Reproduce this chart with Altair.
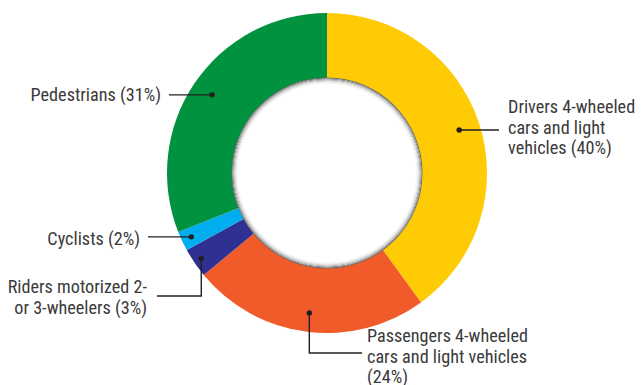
import math
import altair as alt
import pandas as pd

# ---- data ----
categories = [
    "Drivers 4-wheeled cars and light vehicles",
    "Passengers 4-wheeled cars and light vehicles",
    "Riders motorized 2- or 3-wheelers",
    "Cyclists",
    "Pedestrians",
]
values = [40, 24, 3, 2, 31]
colors = ["#FFCB05", "#F15A29", "#2E3192", "#00AEEF", "#00923F"]
label_lines = [
    ["Drivers 4-wheeled", "cars and light", "vehicles (40%)"],
    ["Passengers 4-wheeled", "cars and light vehicles", "(24%)"],
    ["Riders motorized 2-", "or 3-wheelers (3%)"],
    ["Cyclists (2%)"],
    ["Pedestrians (31%)"],
]

# ---- layout (pixels, chart coordinates) ----
W, H = 627, 377
CX, CY = 319, 165
R_OUT, R_IN = 160, 95
dot_radius = [139, 141, 152, 150, 139]
text_anchor = [(500, 100, "left"), (359, 329, "left"), (139, 280, "right"),
               (132, 232, "right"), (153, 88, "right")]
elbow_y = [None, 345, 288, None, None]
leader_end_x = [491, 354, 149, 140, 161]
LINE_H = 20.5
FONT = "Roboto Condensed, Liberation Sans Narrow, Roboto, sans-serif"
FONT_SIZE = 18.2
INK = "#231F20"
# inner shadow rings: (outer radius, inner radius, colour)
shadow_rings = [(95.5, 94.5, "#6a6a6a"), (94.5, 93.5, "#8f8f8f"), (93.5, 92.5, "#b3b3b3"),
                (92.5, 91.5, "#d2d2d2"), (91.5, 90.5, "#e8e8e8"), (90.5, 89.5, "#f5f5f5")]

# ---- derived tables ----
df = pd.DataFrame({"cat": categories, "value": values, "order": list(range(len(values)))})

total = sum(values)
dots, paths, texts_l, texts_r = [], [], [], []
cum = 0
for i, v in enumerate(values):
    mid = (cum + v / 2) / total * 2 * math.pi
    cum += v
    dx = CX + dot_radius[i] * math.sin(mid)
    dy = CY - dot_radius[i] * math.cos(mid)
    dots.append({"x": dx, "y": dy})
    pts = [(dx, dy)]
    if elbow_y[i] is not None:
        pts.append((dx, elbow_y[i]))
        pts.append((leader_end_x[i], elbow_y[i]))
    else:
        pts.append((leader_end_x[i], dy))
    for k, (px, py) in enumerate(pts):
        paths.append({"x": px, "y": py, "label": categories[i], "seq": k})
    tx, ty, al = text_anchor[i]
    for j, line in enumerate(label_lines[i]):
        row = {"x": tx, "y": ty + j * LINE_H, "t": line}
        (texts_l if al == "left" else texts_r).append(row)

xs = alt.X("x:Q", scale=alt.Scale(domain=[0, W], range=[0, W], nice=False, zero=False), axis=None)
ys = alt.Y("y:Q", scale=alt.Scale(domain=[0, H], range=[0, H], nice=False, zero=False), axis=None)

arcs = alt.Chart(df).mark_arc(radius=R_OUT, innerRadius=R_IN).encode(
    theta=alt.Theta("value:Q", stack=True),
    color=alt.Color("cat:N", scale=alt.Scale(domain=categories, range=colors), legend=None),
    order=alt.Order("order:Q"),
    x=alt.value(CX),
    y=alt.value(CY),
)

one = pd.DataFrame({"h": [0]})
rings = [
    alt.Chart(one).mark_arc(radius=ro, innerRadius=ri, theta=0, theta2=2 * math.pi, color=c)
    .encode(x=alt.value(CX), y=alt.value(CY))
    for ro, ri, c in shadow_rings
]

lines = alt.Chart(pd.DataFrame(paths)).mark_line(color=INK, strokeWidth=1.4).encode(
    x=xs, y=ys, detail="label:N", order="seq:Q"
)
pts = alt.Chart(pd.DataFrame(dots)).mark_circle(size=30, color=INK, opacity=1).encode(x=xs, y=ys)

tl = alt.Chart(pd.DataFrame(texts_l)).mark_text(
    align="left", baseline="middle", font=FONT, fontSize=FONT_SIZE, color="#3a3a3a"
).encode(x=xs, y=ys, text="t:N")
tr = alt.Chart(pd.DataFrame(texts_r)).mark_text(
    align="right", baseline="middle", font=FONT, fontSize=FONT_SIZE, color="#3a3a3a"
).encode(x=xs, y=ys, text="t:N")

chart = alt.layer(arcs, *rings, lines, pts, tl, tr).properties(
    width=W, height=H, padding=0, autosize="none"
).configure_view(stroke=None)

chart.save("out.html", embed_options={"renderer": "svg", "actions": False})
